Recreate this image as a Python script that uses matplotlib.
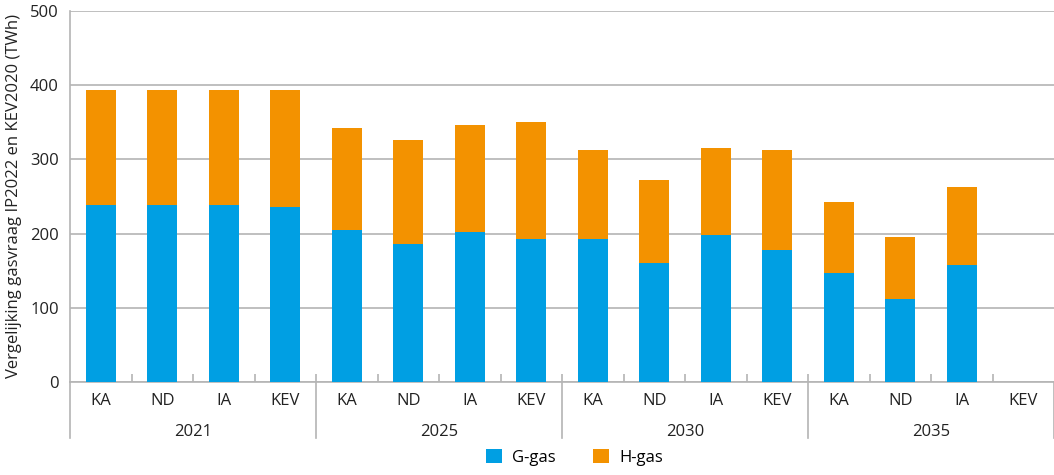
import matplotlib
matplotlib.use("Agg")
import matplotlib.pyplot as plt
from matplotlib.transforms import blended_transform_factory
import numpy as np

plt.rcParams["font.family"] = ["Open Sans", "DejaVu Sans"]

years = ["2021", "2025", "2030", "2035"]
scenarios = ["KA", "ND", "IA", "KEV"]
g_gas = [238, 239, 239, 236,
         205, 186, 202, 193,
         193, 160, 198, 178,
         147, 112, 158, 0]
h_gas = [155, 154, 154, 157,
         137, 140, 144, 158,
         119, 112, 117, 134,
         95, 83, 105, 0]

BLUE = "#009FE3"
ORANGE = "#F39200"
GREY = "#b4b4b4"
TXT = "#222222"
FS = 12

fig = plt.figure(figsize=(10.54, 4.75), dpi=100)
ax = fig.add_axes([70 / 1054, 1 - 382 / 475, 1 - 70 / 1054, 371 / 475])

x = np.arange(len(g_gas))
ax.bar(x, g_gas, width=0.49, color=BLUE, label="G-gas", zorder=3)
ax.bar(x, h_gas, width=0.49, bottom=g_gas, color=ORANGE, label="H-gas", zorder=3)

ax.set_xlim(-0.5, len(g_gas) - 0.5)
ax.set_ylim(0, 500)
ax.set_yticks(range(0, 501, 100))
ax.yaxis.grid(True, color=GREY, lw=1.2, zorder=0)
ax.tick_params(axis="y", length=0, pad=8, labelsize=FS, colors=TXT)
for s in ["top", "right"]:
    ax.spines[s].set_visible(False)
for s in ["left", "bottom"]:
    ax.spines[s].set_color(GREY)
    ax.spines[s].set_linewidth(1.2)

# scenario labels and small inner ticks between bars
ax.set_xticks(x)
ax.set_xticklabels(scenarios * len(years), fontsize=FS, color=TXT)
ax.tick_params(axis="x", length=0, pad=8)
ax.set_xticks(np.arange(0.5, len(g_gas) - 0.5, 1), minor=True)
ax.tick_params(axis="x", which="minor", direction="in", length=6, color=GREY, width=1.2)

# group separators and year labels
trans = blended_transform_factory(ax.transData, ax.transAxes)
for i in range(len(years) + 1):
    xs = i * 4 - 0.5
    ax.plot([xs, xs], [0, -0.152], transform=trans, color=GREY, lw=1.2, clip_on=False)
for i, yr in enumerate(years):
    ax.text(i * 4 + 1.5, -0.135, yr, transform=trans, ha="center", va="center",
            fontsize=FS, color=TXT)

ax.set_ylabel("Vergelijking gasvraag IP2022 en KEV2020 (TWh)", fontsize=FS, color=TXT, labelpad=6)

fig.legend(loc="lower center", bbox_to_anchor=(0.545, -0.012), ncol=2, frameon=False,
           fontsize=FS, handlelength=1.0, handleheight=1.0, handletextpad=0.6,
           columnspacing=2.2)

fig.savefig("out.png")
